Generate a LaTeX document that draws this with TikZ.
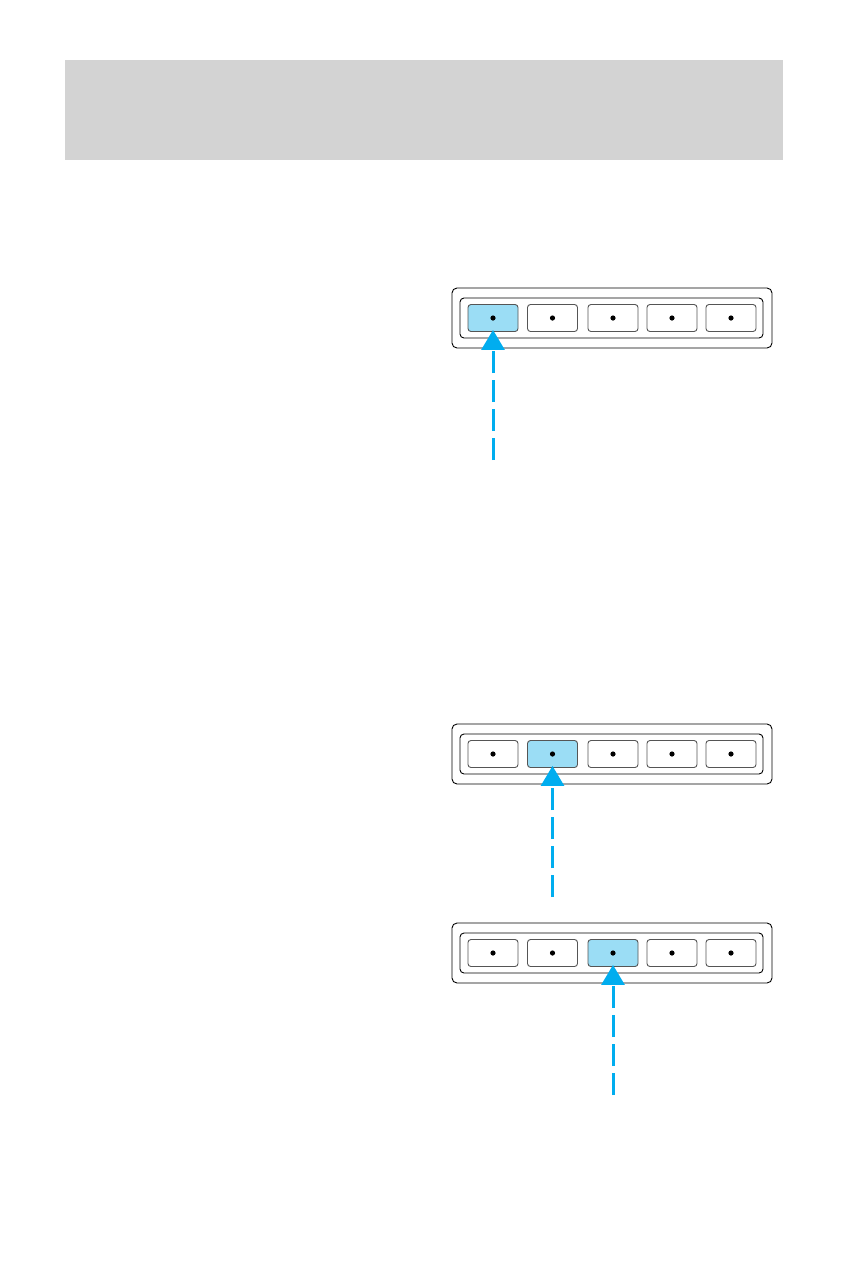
\documentclass[tikz,border=0pt]{standalone}
\usetikzlibrary{arrows.meta}
\definecolor{hdr}{HTML}{D3D3D3}
\definecolor{btnfill}{HTML}{9BDDF5}
\definecolor{arrowc}{HTML}{00ADEF}
\definecolor{btnedge}{HTML}{555555}
\tikzset{
  outerbox/.style={draw=black, line width=0.9pt, rounded corners=5pt},
  innerbox/.style={draw=black, line width=0.9pt, rounded corners=4pt},
  btn/.style={draw=btnedge, line width=0.9pt, rounded corners=3pt, minimum width=50pt, minimum height=27pt, inner sep=0pt, fill=white},
  hot/.style={fill=btnfill},
  pointer/.style={draw=arrowc, line width=3pt, dash pattern=on 22pt off 7pt, -{Triangle[width=23pt,length=20pt]}, shorten >=-2pt},
}
\begin{document}
\begin{tikzpicture}[x=1pt,y=-1pt]
\useasboundingbox (0,0) rectangle (849,1270);
\fill[white] (0,0) rectangle (849,1270);
\fill[hdr] (65,60) rectangle (783,160);
% panels
\foreach \p/\yc/\h in {1/318/1, 2/754/2, 3/953/3} {
  \draw[outerbox] (452,\yc-30) rectangle (772,\yc+30);
  \draw[innerbox] (460,\yc-20) rectangle (763,\yc+20);
  \foreach \i/\xc in {1/493, 2/552.5, 3/613, 4/672, 5/731} {
    \ifnum\i=\h
      \node[btn, hot] (b\p\i) at (\xc,\yc) {};
    \else
      \node[btn] (b\p\i) at (\xc,\yc) {};
    \fi
    \fill (b\p\i.center) circle (2.6pt);
  }
}
\coordinate (s1) at (493,460);
\coordinate (s2) at (552.5,897);
\coordinate (s3) at (613,1095);
\draw[pointer] (s1) -- (b11.south);
\draw[pointer] (s2) -- (b22.south);
\draw[pointer] (s3) -- (b33.south);
\end{tikzpicture}
\end{document}
